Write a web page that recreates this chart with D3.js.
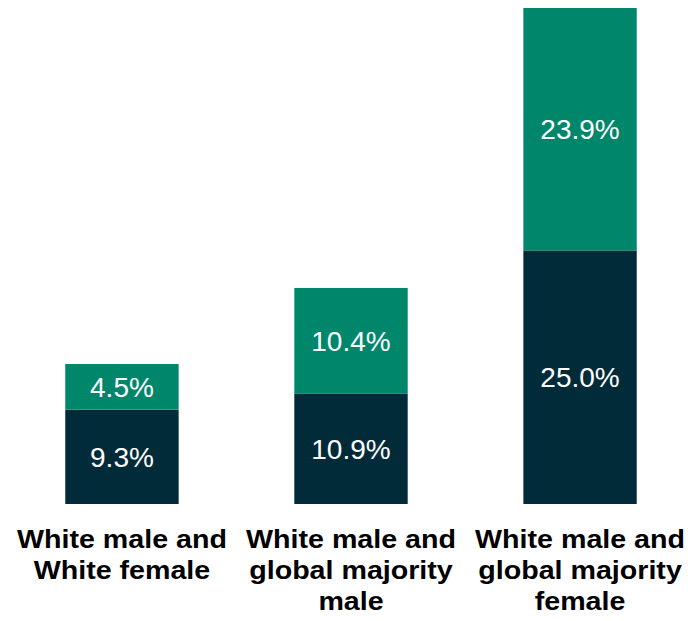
<!DOCTYPE html>
<html>
<head>
<meta charset="utf-8">
<script src="https://cdn.jsdelivr.net/npm/d3@7"></script>
<style>
  body { margin: 0; background: #fff; }
  svg { display: block; font-family: "Liberation Sans", Arial, sans-serif; }
</style>
</head>
<body>
<div id="chart"></div>
<script>
// categories and the two stacked series (percent)
var categories = [
    ["White male and", "White female"],
    ["White male and", "global majority", "male"],
    ["White male and", "global majority", "female"]
];
var bottomValues = [9.3, 10.9, 25.0];
var topValues = [4.5, 10.4, 23.9];

var width = 688, height = 621;
var baseline = 504;

var svg = d3.select("#chart")
    .append("svg")
    .attr("width", width)
    .attr("height", height);

var keys = d3.range(categories.length);

var x = d3.scaleBand()
    .domain(keys)
    .range([8, 694])
    .paddingInner(0.505)
    .paddingOuter(0.25);

var totals = keys.map(function(i) { return bottomValues[i] + topValues[i]; });

var y = d3.scaleLinear()
    .domain([0, d3.max(totals)])
    .range([baseline, 8]);

var rows = keys.map(function(i) { return { key: i, bottom: bottomValues[i], top: topValues[i] }; });
var stack = d3.stack().keys(["bottom", "top"]);
var series = stack(rows);

var colors = { bottom: "#022b3a", top: "#00866a" };

var layer = svg.selectAll(".layer")
    .data(series)
    .enter().append("g")
    .attr("class", "layer")
    .attr("fill", function(d) { return colors[d.key]; });

layer.selectAll("rect")
    .data(function(d) { return d; })
    .enter().append("rect")
    .attr("x", function(d) { return x(d.data.key); })
    .attr("width", x.bandwidth())
    .attr("y", function(d) { return y(d[1]); })
    .attr("height", function(d) { return y(d[0]) - y(d[1]); });

// value labels in the middle of each segment
layer.selectAll("text")
    .data(function(d) { return d; })
    .enter().append("text")
    .attr("x", function(d) { return x(d.data.key) + x.bandwidth() / 2; })
    .attr("y", function(d) { return (y(d[0]) + y(d[1])) / 2; })
    .attr("dy", "0.36em")
    .attr("text-anchor", "middle")
    .attr("fill", "#fff")
    .style("font-size", "28px")
    .text(function(d) { return (d[1] - d[0]).toFixed(1) + "%"; });

// category labels under the bars (a bit wider than the plain font)
var cat = svg.selectAll(".cat")
    .data(keys)
    .enter().append("g")
    .attr("class", "cat")
    .attr("transform", function(i) {
        return "translate(" + (x(i) + x.bandwidth() / 2) + ",548) scale(1.08,1)";
    })
    .append("text")
    .attr("text-anchor", "middle")
    .style("font-size", "26.5px")
    .style("font-weight", "bold")
    .attr("fill", "#000");

cat.selectAll("tspan")
    .data(function(i) { return categories[i]; })
    .enter().append("tspan")
    .attr("x", 0)
    .attr("dy", function(d, j) { return j === 0 ? 0 : 31; })
    .text(function(d) { return d; });
</script>
</body>
</html>
